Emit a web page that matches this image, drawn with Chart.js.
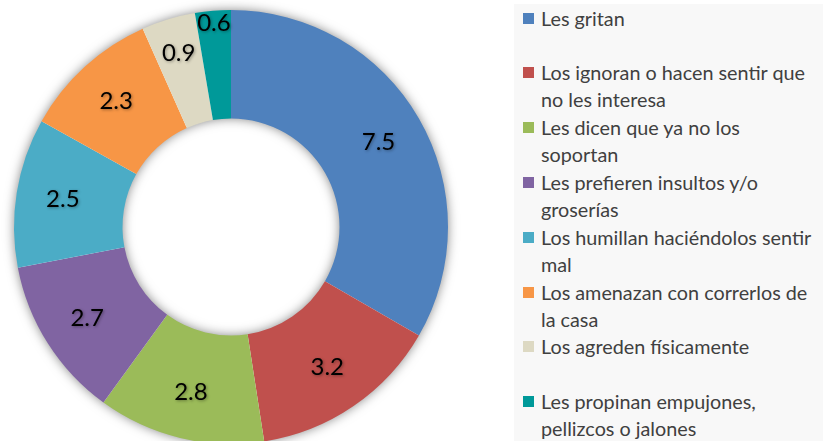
<!DOCTYPE html>
<html>
<head>
<meta charset="utf-8">
<script src="https://cdn.jsdelivr.net/npm/chart.js@4.4.0/dist/chart.umd.min.js"></script>
<style>
  html, body { margin: 0; padding: 0; background: #fff; overflow: hidden; width: 823px; height: 441px; }
  #wrap { position: absolute; left: 0; top: 0; width: 462px; height: 454px; }
  #legendBox { position: absolute; left: 514px; top: 4px; right: 0; bottom: 0; background: #f8f8f8; }
  .item { position: absolute; left: 0; height: 54px; font-family: Lato, sans-serif; font-size: 19.8px; line-height: 27px; color: #404040; }
  .item .box { position: absolute; left: 9px; top: 8px; width: 11px; height: 11px; }
  .item .txt { position: absolute; left: 27px; top: 0; white-space: nowrap; }
</style>
</head>
<body>
<div id="wrap"><canvas id="donut"></canvas></div>
<div id="legendBox"></div>
<script>
const categories = [
  ['Les gritan'],
  ['Los ignoran o hacen sentir que', 'no les interesa'],
  ['Les dicen que ya no los', 'soportan'],
  ['Les prefieren insultos y/o', 'groserías'],
  ['Los humillan haciéndolos sentir', 'mal'],
  ['Los amenazan con correrlos de', 'la casa'],
  ['Los agreden físicamente'],
  ['Les propinan empujones,', 'pellizcos o jalones']
];
const values = [7.5, 3.2, 2.8, 2.7, 2.5, 2.3, 0.9, 0.6];
const colors = ['#4F81BD', '#C0504D', '#9BBB59', '#8064A2', '#4BACC6', '#F79646', '#DDD9C3', '#009999'];

// soft shadow under the whole ring, like the office chart effect
const ringShadow = {
  id: 'ringShadow',
  beforeDatasetsDraw(chart) {
    const arc = chart.getDatasetMeta(0).data[0];
    if (!arc) return;
    const p = arc.getProps(['x', 'y', 'innerRadius', 'outerRadius'], true);
    const ctx = chart.ctx;
    ctx.save();
    ctx.shadowColor = 'rgba(0,0,0,0.55)';
    ctx.shadowBlur = 12;
    ctx.fillStyle = '#fff';
    ctx.beginPath();
    ctx.arc(p.x, p.y, p.outerRadius - 1, 0, Math.PI * 2);
    ctx.arc(p.x, p.y, p.innerRadius + 1, 0, Math.PI * 2, true);
    ctx.fill();
    ctx.restore();
  }
};

// value labels inside the slices
const sliceLabels = {
  id: 'sliceLabels',
  afterDatasetsDraw(chart) {
    const ctx = chart.ctx;
    const meta = chart.getDatasetMeta(0);
    ctx.save();
    ctx.font = '24px Lato, sans-serif';
    ctx.fillStyle = '#000';
    ctx.textAlign = 'center';
    ctx.textBaseline = 'middle';
    ctx.shadowColor = 'rgba(0,0,0,0.35)';
    ctx.shadowBlur = 3;
    ctx.shadowOffsetX = 1;
    ctx.shadowOffsetY = 1;
    meta.data.forEach((arc, i) => {
      const p = arc.getProps(['x', 'y', 'startAngle', 'endAngle', 'innerRadius', 'outerRadius'], true);
      const mid = (p.startAngle + p.endAngle) / 2;
      const span = p.endAngle - p.startAngle;
      const text = values[i].toFixed(1);
      const w = ctx.measureText(text).width;
      let r = p.innerRadius + (p.outerRadius - p.innerRadius) * 0.57;
      // narrow slices: push the label outward so it fits
      r = Math.min(Math.max(r, (w + 12) / span), p.outerRadius - 13);
      ctx.fillText(text, p.x + Math.cos(mid) * r, p.y + Math.sin(mid) * r);
    });
    ctx.restore();
  }
};

new Chart(document.getElementById('donut'), {
  type: 'doughnut',
  data: {
    labels: categories.map(c => c.join(' ')),
    datasets: [{
      data: values,
      backgroundColor: colors,
      borderWidth: 0
    }]
  },
  options: {
    responsive: true,
    maintainAspectRatio: false,
    animation: false,
    cutout: '50%',
    layout: { padding: { top: 10, bottom: 10, left: 14, right: 14 } },
    plugins: {
      legend: { display: false },
      tooltip: { enabled: false }
    }
  },
  plugins: [ringShadow, sliceLabels]
});

// legend on the right, built from the same arrays
const legendBox = document.getElementById('legendBox');
categories.forEach((lines, i) => {
  const item = document.createElement('div');
  item.className = 'item';
  item.style.top = (i * 54.8 + 0.5) + 'px';
  const box = document.createElement('div');
  box.className = 'box';
  box.style.background = colors[i];
  const txt = document.createElement('div');
  txt.className = 'txt';
  txt.innerHTML = lines.join('<br>');
  item.appendChild(box);
  item.appendChild(txt);
  legendBox.appendChild(item);
});
</script>
</body>
</html>
